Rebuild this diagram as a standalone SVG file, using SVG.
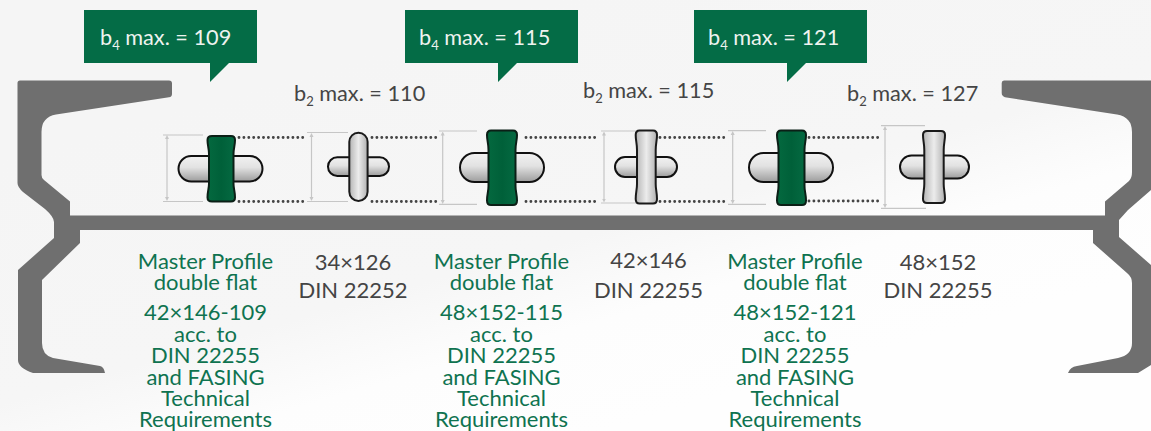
<svg xmlns="http://www.w3.org/2000/svg" width="1151" height="431" viewBox="0 0 1151 431">
<style>
.dim{stroke:#c6c6c6;stroke-width:1.2;fill:none}
.arr{stroke:#c6c6c6;stroke-width:1.2;fill:none;marker-start:url(#ah);marker-end:url(#ah)}
.dots{stroke:#444;stroke-width:2.9;stroke-linecap:round;stroke-dasharray:0 4.9;fill:none}
.cap{fill:url(#capg);stroke:#111;stroke-width:2}
.sg{fill:url(#stemg);stroke:#1a1a1a;stroke-width:2}
.sv{fill:url(#greeng);stroke:#0b1f16;stroke-width:2}
.box{fill:#046c46}
.t{font-family:"Lato","Liberation Sans",sans-serif;font-size:21.7px}
.w{fill:#eef3ef}
.k{fill:#454545}
.s{font-size:13px}
.l{font-family:"Lato","Noto Sans",sans-serif;font-size:22px;text-anchor:middle}
.g{fill:#0f7350}
.d{fill:#444}
</style>
<defs>
<linearGradient id="bg" x1="0.35" y1="0.1" x2="0.85" y2="0.75"><stop offset="0" stop-color="#f5f5f5"/><stop offset="0.55" stop-color="#f6f6f6"/><stop offset="0.75" stop-color="#fdfdfd"/><stop offset="1" stop-color="#fefefe"/></linearGradient>
<linearGradient id="capg" x1="0" y1="0" x2="0" y2="1"><stop offset="0" stop-color="#f2f2f2"/><stop offset="0.45" stop-color="#e2e2e2"/><stop offset="1" stop-color="#9c9c9c"/></linearGradient>
<linearGradient id="stemg" x1="0" y1="0" x2="1" y2="0"><stop offset="0" stop-color="#b4b4b4"/><stop offset="0.5" stop-color="#ececec"/><stop offset="1" stop-color="#b0b0b0"/></linearGradient>
<linearGradient id="greeng" x1="0" y1="0" x2="1" y2="0"><stop offset="0" stop-color="#04693f"/><stop offset="0.5" stop-color="#006039"/><stop offset="1" stop-color="#056a42"/></linearGradient>
<marker id="ah" viewBox="0 0 6 6" refX="3" refY="3" markerWidth="4" markerHeight="6" orient="auto-start-reverse" markerUnits="userSpaceOnUse"><path d="M0 0L6 3L0 6Z" fill="#c6c6c6"/></marker>
</defs>
<rect width="1151" height="431" fill="url(#bg)"/>
<g id="profile" fill="#6f6f6f">
<path d="M20 80.5H169Q172 80.5 172 83.5V94Q172 97 169 97.3L56 114.5Q41.5 117 41.5 132V175Q41.5 178 44 180L70 201.5V215.5H1105V201.5L1129 181Q1132 178 1132 172V132Q1132 117 1117 114.5L1005 97.3Q1001.7 96 1001.7 93V83Q1001.7 80.5 1004 80.5H1151V190L1128 210L1119 220V237L1151 265V365L1138 373H1068Q1070 367 1077 366L1118 358Q1132 355 1132 343V283Q1132 277 1127 273L1093 243V230H80V243L42 280V343Q42 355 53 358L100 366Q104 367 105 373H33Q18 368 18 360V270L54 238V222Q54 217 45 209L23 192Q17.5 187 17.5 183V83Q17.5 80.5 20 80.5Z"/>
</g>
<g id="callouts">
<g id="callout-1"><path class="box" d="M84 10H257V63H229L210 82V63H84Z"/><text class="t w" x="100" y="45">b<tspan class="s" dy="5">4</tspan><tspan dy="-5"> max. = 109</tspan></text></g>
<g id="callout-2"><path class="box" d="M405 10H578V63H517L498 82V63H405Z"/><text class="t w" x="419" y="45">b<tspan class="s" dy="5">4</tspan><tspan dy="-5"> max. = 115</tspan></text></g>
<g id="callout-3"><path class="box" d="M694 10H867V63H806L787 82V63H694Z"/><text class="t w" x="708" y="45">b<tspan class="s" dy="5">4</tspan><tspan dy="-5"> max. = 121</tspan></text></g>
</g>
<g id="b2-labels">
<text class="t k" x="294" y="101">b<tspan class="s" dy="5">2</tspan><tspan dy="-5"> max. = 110</tspan></text>
<text class="t k" x="583" y="98">b<tspan class="s" dy="5">2</tspan><tspan dy="-5"> max. = 115</tspan></text>
<text class="t k" x="847" y="101">b<tspan class="s" dy="5">2</tspan><tspan dy="-5"> max. = 127</tspan></text>
</g>
<g id="connectors">
<path class="dim" d="M163 135H203M163 201.5H203M307 132.5H348M307 201.5H348M439 131H477M439 204.3H477M601 131H640M601 203H640M728 130.7H766M728 204.3H766M881 125.7H925M881 208.3H926"/>
<path class="arr" d="M167 137V199"/><path class="arr" d="M311.5 135V199"/><path class="arr" d="M442.7 133.5V202"/><path class="arr" d="M604 133.5V200.5"/><path class="arr" d="M732.7 133V202"/><path class="arr" d="M885 128V206"/>
<path class="dots" d="M239 137.5H303M239 201.5H303M372 137.5H436M372 201.5H436M526 137.5H597M526 201.500H597M660 137.5H728M660 201.500H728M809 137.5H881M809 201H881"/>
</g>
<g id="node-1"><rect class="cap" x="178.5" y="156" width="84" height="25.5" rx="12.7"/><path class="sv" d="M212 136H231Q235 136 235 140C235 146 233.500 148 233.500 154V183.500C233.500 189 235 191 235 197.500Q235 201.500 231 201.500H212Q207.500 201.500 207.500 197.500C207.500 191 209 189 209 183.500V154C209 148 207.500 146 207.500 140Q207.500 136 212 136Z"/></g>
<g id="node-2"><rect class="cap" x="328" y="157.300" width="61" height="18.700" rx="9.300"/><rect class="sg" x="349.300" y="132.700" width="18.300" height="68.300" rx="9.150"/></g>
<g id="node-3"><rect class="cap" x="460" y="153" width="84" height="29" rx="14.500"/><path class="sv" d="M491 130.500H513Q517 130.500 517 135C517 141 515.500 143 515.500 150V186C515.500 192 517 194 517 200.500Q517 205 513 205H491Q487 205 487 200.500C487 194 488.500 192 488.500 186V150C488.500 143 487 141 487 135Q487 130.500 491 130.500Z"/></g>
<g id="node-4"><rect class="cap" x="615" y="157" width="62" height="20" rx="10"/><path class="sg" d="M639.500 130.500H653Q657 130.500 657 135C657 141 655.700 143 655.700 150V184C655.700 190 657 192 657 199Q657 203.500 653 203.500H639.500Q635.700 203.500 635.700 199C635.700 192 637 190 637 184V150C637 143 635.700 141 635.700 135Q635.700 130.500 639.500 130.500Z"/></g>
<g id="node-5"><rect class="cap" x="749" y="153" width="84" height="29" rx="14.500"/><path class="sv" d="M781 130.500H802Q806 130.500 806 135C806 141 804.500 143 804.500 150V186C804.500 192 806 194 806 200.500Q806 205 802 205H781Q777 205 777 200.500C777 194 778.500 192 778.500 186V150C778.500 143 777 141 777 135Q777 130.500 781 130.500Z"/></g>
<g id="node-6"><rect class="cap" x="900" y="155.500" width="69" height="23" rx="11.500"/><path class="sg" d="M927 131H941Q945 131 945 135C945 141 943.700 143 943.700 150V184C943.700 190 945 192 945 199Q945 203 941 203H927Q923 203 923 199C923 192 924.300 190 924.300 184V150C924.300 143 923 141 923 135Q923 131 927 131Z"/></g>
<g id="labels">
<g id="label-1" class="l g"><text x="205.500" y="269">Master Profile</text><text x="205.500" y="290">double flat</text><text x="205.500" y="320">42×146-109</text><text x="205.500" y="342">acc. to</text><text x="205.500" y="363">DIN 22255</text><text x="205.500" y="385">and FASING</text><text x="205.500" y="406">Technical</text><text x="205.500" y="427">Requirements</text></g>
<g id="label-2" class="l d"><text x="353" y="270">34×126</text><text x="353" y="298">DIN 22252</text></g>
<g id="label-3" class="l g"><text x="501.500" y="269">Master Profile</text><text x="501.500" y="290">double flat</text><text x="501.500" y="320">48×152-115</text><text x="501.500" y="342">acc. to</text><text x="501.500" y="363">DIN 22255</text><text x="501.500" y="385">and FASING</text><text x="501.500" y="406">Technical</text><text x="501.500" y="427">Requirements</text></g>
<g id="label-4" class="l d"><text x="648.500" y="268">42×146</text><text x="648.500" y="298">DIN 22255</text></g>
<g id="label-5" class="l g"><text x="795" y="269">Master Profile</text><text x="795" y="290">double flat</text><text x="795" y="320">48×152-121</text><text x="795" y="342">acc. to</text><text x="795" y="363">DIN 22255</text><text x="795" y="385">and FASING</text><text x="795" y="406">Technical</text><text x="795" y="427">Requirements</text></g>
<g id="label-6" class="l d"><text x="938" y="270">48×152</text><text x="938" y="298">DIN 22255</text></g>
</g>
</svg>
